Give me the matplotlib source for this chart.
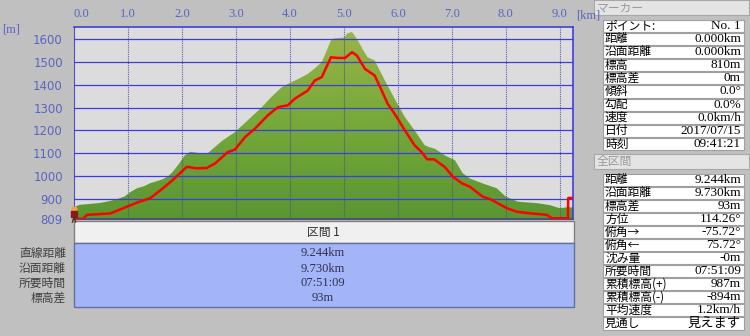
import numpy as np
import matplotlib
matplotlib.use('Agg')
import matplotlib.pyplot as plt
from matplotlib.patches import Rectangle
from matplotlib.colors import LinearSegmentedColormap

plt.rcParams['font.family'] = ['Noto Sans CJK JP', 'DejaVu Sans']
num_font = ['Liberation Serif', 'Noto Sans CJK JP']

# terrain profile (green) : km / m
terrain_km = [0.00, 0.10, 0.30, 0.50, 0.67, 0.85, 0.94, 1.05, 1.17, 1.30, 1.41, 1.55, 1.65,
              1.75, 1.83, 1.95, 2.05, 2.15, 2.33, 2.48, 2.60, 2.75, 2.98, 3.20, 3.48, 3.65,
              3.85, 3.96, 4.15, 4.33, 4.45, 4.59, 4.68, 4.76, 4.82, 4.92, 5.00, 5.07, 5.15,
              5.26, 5.35, 5.44, 5.57, 5.66, 5.76, 5.94, 6.13, 6.31, 6.50, 6.60, 6.69, 6.87,
              7.06, 7.20, 7.33, 7.57, 7.83, 8.00, 8.22, 8.59, 8.81, 9.00, 9.13, 9.244]
terrain_m = [862, 873, 877, 882, 890, 902, 910, 930, 946, 955, 968, 978, 986,
             1000, 1018, 1055, 1090, 1106, 1100, 1100, 1125, 1155, 1192, 1240, 1302, 1345,
             1390, 1404, 1425, 1448, 1470, 1500, 1550, 1595, 1604, 1606, 1608, 1627, 1632,
             1595, 1555, 1521, 1507, 1465, 1419, 1339, 1258, 1200, 1134, 1125, 1119, 1090,
             1068, 1012, 989, 967, 946, 909, 887, 880, 872, 858, 862, 862]

# GPS track (red)
track_km = [0.00, 0.17, 0.24, 0.67, 0.91, 1.17, 1.41, 1.65, 1.83, 2.09, 2.28, 2.46, 2.61,
            2.85, 2.98, 3.17, 3.35, 3.59, 3.78, 3.96, 4.09, 4.33, 4.46, 4.59, 4.76, 4.89,
            5.02, 5.15, 5.24, 5.39, 5.57, 5.70, 5.81, 5.94, 6.13, 6.31, 6.44, 6.54, 6.67,
            6.87, 7.02, 7.19, 7.33, 7.57, 7.72, 8.02, 8.20, 8.44, 8.76, 8.85, 9.15, 9.155, 9.244]
track_m = [810, 812, 829, 835, 858, 883, 902, 946, 982, 1040, 1033, 1035, 1054,
           1105, 1115, 1171, 1207, 1266, 1302, 1310, 1339, 1375, 1419, 1434, 1521, 1518,
           1518, 1543, 1529, 1470, 1441, 1375, 1317, 1273, 1200, 1134, 1105, 1073, 1073,
           1039, 996, 967, 953, 909, 897, 858, 843, 836, 829, 814, 814, 903, 903]

x_ticks = [0, 1, 2, 3, 4, 5, 6, 7, 8, 9]
x_labels = ['0.0', '1.0', '2.0', '3.0', '4.0', '5.0', '6.0', '7.0', '8.0', '9.0']
y_ticks = [809, 900, 1000, 1100, 1200, 1300, 1400, 1500, 1600]
grid_m = [900, 1000, 1100, 1200, 1300, 1400, 1500, 1600]

marker_labels = ['ポイント:', '距離', '沿面距離', '標高', '標高差', '傾斜', '勾配', '速度', '日付', '時刻']
marker_values = ['No. 1', '0.000km', '0.000km', '810m', '0m', '0.0°', '0.0%', '0.0km/h',
                 '2017/07/15', '09:41:21']
total_labels = ['距離', '沿面距離', '標高差', '方位', '俯角→', '俯角←', '沈み量', '所要時間',
                '累積標高(+)', '累積標高(-)', '平均速度', '見通し']
total_values = ['9.244km', '9.730km', '93m', '114.26°', '-75.72°', '75.72°', '-0m', '07:51:09',
                '987m', '-894m', '1.2km/h', '見えます']
section_labels = ['直線距離', '沿面距離', '所要時間', '標高差']
section_values = ['9.244km', '9.730km', '07:51:09', '93m']

x_max = 9.244
y_min, y_max = 809, 1654

fig = plt.figure(figsize=(7.5, 3.36), dpi=100, facecolor='#c0c0c0')
ax = fig.add_axes([74 / 750, 1 - 219.4 / 336, 499 / 750, 192.4 / 336])
ax.set_facecolor('#dcdcdc')
ax.set_xlim(0, x_max)
ax.set_ylim(y_min, y_max)

# dotted vertical grid behind terrain
ax.vlines(x_ticks[1:], y_min, y_max, color='#5a5ab8', lw=0.8, linestyles=(0, (1, 1)), zorder=1)

### Terrain fill with vertical gradient
poly = ax.fill_between(terrain_km, y_min, terrain_m, color='none', lw=0, zorder=2)
cmap = LinearSegmentedColormap.from_list('g', ['#5a9632', '#76a83a', '#9ab448'])
grad = np.linspace(0, 1, 256).reshape(-1, 1)
im = ax.imshow(grad, extent=[0, x_max, y_min, 1640], origin='lower', aspect='auto',
               cmap=cmap, zorder=2)
im.set_clip_path(poly.get_paths()[0], transform=ax.transData)
ax.set_xlim(0, x_max)
ax.set_ylim(y_min, y_max)

# grid over terrain
ax.vlines(x_ticks[1:], y_min, np.interp(x_ticks[1:], terrain_km, terrain_m),
          color='#4a5a7a', lw=0.8, alpha=0.55, zorder=3)
ax.hlines(grid_m, 0, x_max, color='#3c3ce6', lw=0.9, zorder=3)

ax.plot(track_km, track_m, color='#ff0000', lw=1.8, zorder=4, solid_joinstyle='round')

### Axes styling
ax.xaxis.tick_top()
ax.set_xticks(x_ticks)
ax.set_xticklabels(x_labels, family=num_font, fontsize=9, color='#5a64c0')
ax.get_xticklabels()[0].set_horizontalalignment('left')
ax.set_yticks(y_ticks)
ax.set_yticklabels([str(v) for v in y_ticks], family='DejaVu Sans', fontsize=8.5, color='#5a64c0')
ax.tick_params(axis='x', length=0, pad=5)
ax.tick_params(axis='y', length=0, pad=8)
for s in ['top', 'right']:
    ax.spines[s].set_color('#3434e0')
    ax.spines[s].set_linewidth(1.1)
ax.spines['left'].set_color('#5050c0')
ax.spines['left'].set_linestyle((0, (1, 1)))
ax.spines['bottom'].set_color('#505080')
ax.spines['bottom'].set_linewidth(1.5)

### Overlay in pixel coords for panels
ov = fig.add_axes([0, 0, 1, 1], zorder=5)
ov.set_xlim(0, 750)
ov.set_ylim(336, 0)
ov.axis('off')
ov.patch.set_alpha(0)

ov.text(2, 30, '[m]', family=num_font, fontsize=9, color='#5a64c0', va='center', ha='left')
ov.text(576, 15, '[km]', family=num_font, fontsize=9, color='#5a64c0', va='center', ha='left')

# hiker icon
ov.plot([74], [209], 'o', color='#f0a040', ms=3.5)
ov.plot([74], [214], 's', color='#8a1a1a', ms=4)
ov.plot([72.5, 74, 75.5], [222, 217, 222], color='#503020', lw=1)

# right panel
def header(y, title):
    ov.add_patch(Rectangle((594, y), 155, 15, fc='#e4e4e4', ec='#a8a8a8', lw=0.8))
    ov.text(597, y + 7.5, title, fontsize=8.5, color='#9a9a9a', va='center', ha='left')

def table(y0, rh, labels, values):
    for i, (lab, val) in enumerate(zip(labels, values)):
        y = y0 + i * rh
        ov.add_patch(Rectangle((602.5, y + 0.5), 141.5, rh - 1, fc='white', ec='#a0a0a0', lw=0.8))
        ov.text(605, y + rh / 2, lab, fontsize=8.5, color='black', va='center', ha='left')
        ov.text(741, y + rh / 2, val, family=num_font, fontsize=9.5, color='black',
                va='center', ha='right')

header(0, 'マーカー')
table(19, 13.17, marker_labels, marker_values)
header(154, '全区間')
table(173.3, 13.06, total_labels, total_values)

# bottom section panel
ov.add_patch(Rectangle((73.5, 221), 500.5, 21.5, fc='#f0f0f0', ec='#808080', lw=1))
ov.text(323, 232, '区間 1', fontsize=8.5, color='#303030', va='center', ha='center')
ov.add_patch(Rectangle((73.5, 242.5), 500.5, 64.5, fc='#a4b4f8', ec='#6070a0', lw=1))
rows_y = [253.5, 268.5, 283.5, 298]
for lab, val, yy in zip(section_labels, section_values, rows_y):
    ov.text(66, yy, lab, fontsize=8.5, color='#404040', va='center', ha='right')
    ov.text(323, yy, val, family=num_font, fontsize=9, color='#303050', va='center', ha='center')

fig.savefig('out.png', dpi=100, facecolor=fig.get_facecolor())
